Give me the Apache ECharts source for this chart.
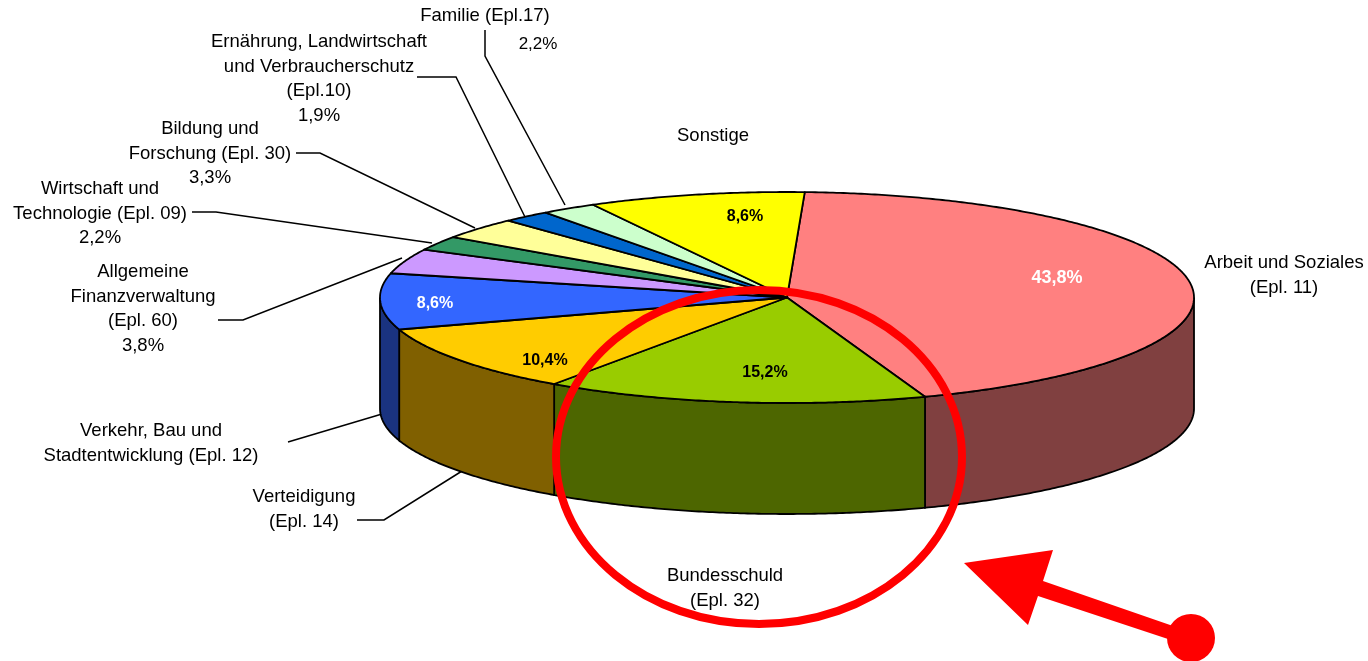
<!DOCTYPE html>
<html>
<head>
<meta charset="utf-8">
<script src="https://cdn.jsdelivr.net/npm/echarts@6/dist/echarts.min.js"></script>
<style>
html, body { margin: 0; padding: 0; background: #fff; }
#main { width: 1368px; height: 661px; }
</style>
</head>
<body>
<div id="main"></div>
<script>
// slices clockwise, starting at the top of the pie
const categories = ['Arbeit und Soziales', 'Bundesschuld', 'Verteidigung', 'Verkehr, Bau und Stadtentwicklung', 'Allgemeine Finanzverwaltung', 'Wirtschaft und Technologie', 'Bildung und Forschung', 'Ernährung, Landwirtschaft und Verbraucherschutz', 'Familie', 'Sonstige']
const shares = [43.8, 15.2, 10.4, 8.6, 3.8, 2.2, 3.3, 1.9, 2.2, 8.6]
const topColors = ['#FF8080', '#99CC00', '#FFCC00', '#3366FF', '#CC99FF', '#339966', '#FFFF99', '#0066CC', '#CCFFCC', '#FFFF00']
const sideColors = ['#804040', '#4D6600', '#806000', '#1A3380', '#664D80', '#1A4D33', '#80804D', '#003366', '#668066', '#808000']

// text next to the pie, one entry per line
const labelTexts = [
  ['Arbeit und Soziales', '(Epl. 11)'],
  ['Bundesschuld', '(Epl. 32)'],
  ['Verteidigung', '(Epl. 14)'],
  ['Verkehr, Bau und', 'Stadtentwicklung (Epl. 12)'],
  ['Allgemeine', 'Finanzverwaltung', '(Epl. 60)', '3,8%'],
  ['Wirtschaft und', 'Technologie (Epl. 09)', '2,2%'],
  ['Bildung und', 'Forschung (Epl. 30)', '3,3%'],
  ['Ernährung, Landwirtschaft', 'und Verbraucherschutz', '(Epl.10)', '1,9%'],
  ['Familie (Epl.17)'],
  ['Sonstige']
]
const labelCenters = [1284, 725, 304, 151, 143, 100, 210, 319, 485, 713]
const labelTops = [263, 576, 497, 431, 272, 189, 129, 42, 16, 136]

// percent labels on the slices
const insideIndex = [0, 1, 2, 3, 9]
const insideX = [1057, 765, 545, 435, 745]
const insideY = [278, 373, 361, 304, 217]
const insideSizes = [18, 16, 16, 16, 16]
const insideColors = ['#fff', '#000', '#000', '#fff', '#000']

const leaders = [
  [[485, 30], [485, 56], [565, 205]],
  [[417, 77], [456, 77], [525, 217]],
  [[296, 153], [320, 153], [475, 228]],
  [[192, 212], [216, 212], [432, 243]],
  [[218, 320], [243, 320], [402, 258]],
  [[288, 442], [382, 414]],
  [[357, 520], [384, 520], [470, 466]]
]

const startAngle = 2.5
const depth = 111
const font = '"Liberation Sans", Arial, sans-serif'

let acc = startAngle
const sliceData = shares.map((v, i) => {
  const from = acc
  acc += v * 3.6
  return [from, acc, i]
})

function rimPoints (api, from, to) {
  const pts = []
  const n = Math.max(2, Math.ceil((to - from) * 2))
  for (let k = 0; k <= n; k++) {
    const a = (from + (to - from) * k / n) * Math.PI / 180
    pts.push(api.coord([Math.sin(a), Math.cos(a)]))
  }
  return pts
}

function renderSlice (params, api) {
  const from = api.value(0)
  const to = api.value(1)
  const i = api.value(2)
  const children = []
  // outer wall, only the front half of the rim can be seen
  const wallFrom = Math.max(from, 90)
  const wallTo = Math.min(to, 270)
  if (wallTo > wallFrom) {
    const rim = rimPoints(api, wallFrom, wallTo)
    const lower = rim.map(p => [p[0], p[1] + depth]).reverse()
    children.push({
      type: 'polygon',
      shape: { points: rim.concat(lower) },
      style: { fill: sideColors[i], stroke: '#000', lineWidth: 1.8 }
    })
  }
  children.push({
    type: 'polygon',
    shape: { points: [api.coord([0, 0])].concat(rimPoints(api, from, to)) },
    style: { fill: topColors[i], stroke: '#000', lineWidth: 1.8, lineJoin: 'round' }
  })
  return { type: 'group', children: children }
}

const graphics = []

leaders.forEach(pts => {
  graphics.push({
    type: 'polyline', z: 0,
    shape: { points: pts },
    style: { fill: null, stroke: '#000', lineWidth: 1.5 }
  })
})

labelTexts.forEach((lines, i) => {
  lines.forEach((line, k) => {
    graphics.push({
      type: 'text', z: 20,
      x: labelCenters[i], y: labelTops[i] + k * 24.6,
      style: { text: line, font: '18.5px ' + font, fill: '#000', align: 'center', verticalAlign: 'middle' }
    })
  })
})

// the Familie share sits apart from its name
graphics.push({
  type: 'text', z: 20, x: 538, y: 44,
  style: { text: '2,2%', font: '17px ' + font, fill: '#000', align: 'center', verticalAlign: 'middle' }
})

insideIndex.forEach((idx, k) => {
  graphics.push({
    type: 'text', z: 20, x: insideX[k], y: insideY[k],
    style: {
      text: String(shares[idx]).replace('.', ',') + '%',
      font: 'bold ' + insideSizes[k] + 'px ' + font, fill: insideColors[k], align: 'center', verticalAlign: 'middle'
    }
  })
})

// red marking around Bundesschuld
graphics.push({
  type: 'ellipse', z: 10,
  shape: { cx: 759, cy: 457, rx: 203, ry: 167 },
  style: { fill: null, stroke: '#FF0000', lineWidth: 8 }
})
graphics.push({
  type: 'polygon', z: 10,
  shape: { points: [[964, 563], [1053, 550], [1043, 581], [1173, 626], [1168, 639], [1038, 596], [1028, 625]] },
  style: { fill: '#FF0000' }
})
graphics.push({
  type: 'circle', z: 10,
  shape: { cx: 1191, cy: 638, r: 24 },
  style: { fill: '#FF0000' }
})

const chart = echarts.init(document.getElementById('main'), null, { renderer: 'canvas' })
chart.setOption({
  animation: false,
  backgroundColor: '#fff',
  grid: { left: 380, right: 174, top: 192, bottom: 258 },
  xAxis: { type: 'value', min: -1, max: 1, show: false },
  yAxis: { type: 'value', min: -1, max: 1, show: false },
  series: [{
    type: 'custom',
    name: 'Epl',
    coordinateSystem: 'cartesian2d',
    data: sliceData,
    encode: { x: 0, y: 1 },
    renderItem: renderSlice,
    silent: true,
    z: 2
  }],
  graphic: { elements: graphics }
})
</script>
</body>
</html>
